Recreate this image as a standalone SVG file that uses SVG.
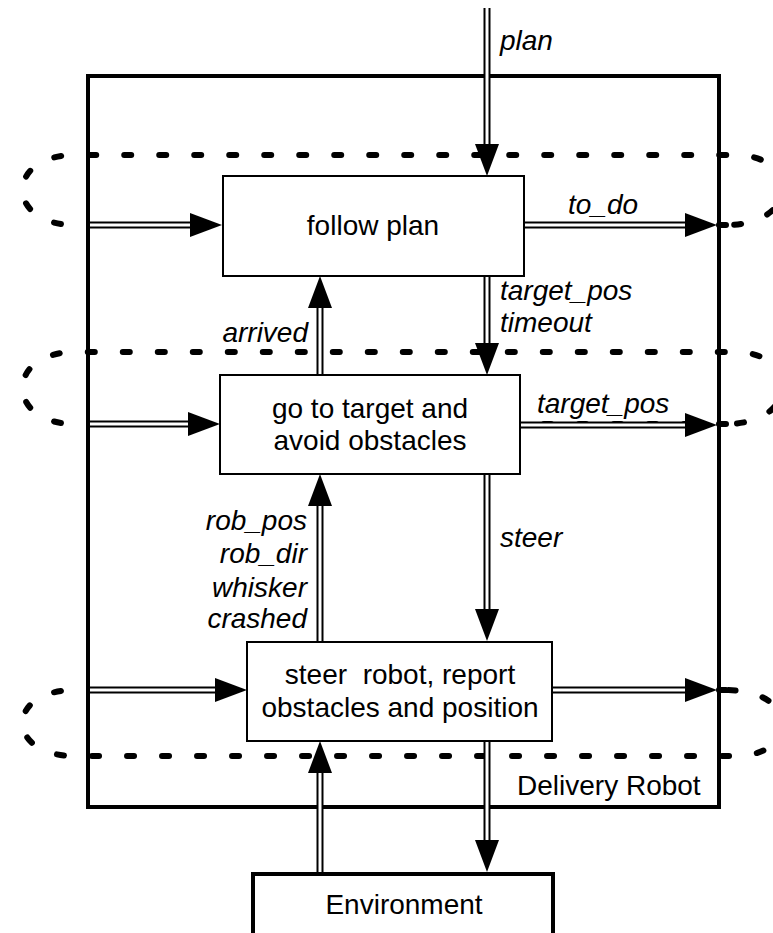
<svg xmlns="http://www.w3.org/2000/svg" width="773" height="933" viewBox="0 0 773 933">
<style>
.frame{fill:none;stroke:#000;stroke-width:4}
.box{fill:#fff;stroke:#000;stroke-width:2}
.env{fill:#fff;stroke:#000;stroke-width:4}
.loop{fill:none;stroke:#000;stroke-width:6;stroke-dasharray:7 28;stroke-linecap:round}
.sb{stroke:#000;stroke-width:7}
.sw{stroke:#fff;stroke-width:3}
.hd{fill:#000}
text{font-family:"Liberation Sans",Arial,sans-serif;font-size:28px;fill:#000}
.lbl{font-style:italic}
.c{text-anchor:middle}
.r{text-anchor:end}
</style>
<rect width="773" height="933" fill="#fff"/>
<g id="frame">
<rect class="frame" x="88" y="76" width="631" height="731"/>
<text x="517" y="795">Delivery Robot</text>
</g>
<g id="loops">
<path class="loop" d="M726,225 H75 C5,225 5,155 75,155 H735 C800,155 800,225 726,225"/>
<path class="loop" d="M726,424 H75 C5,424 5,352 75,352 H735 C800,352 800,424 726,424"/>
<path class="loop" d="M726,690 H75 C5,690 5,756 75,756 H735 C800,756 800,690 726,690"/>
</g>
<g id="connectors">
<!-- plan -->
<line class="sb" x1="487" y1="8" x2="487" y2="146"/><line class="sw" x1="487" y1="8" x2="487" y2="146"/>
<polygon class="hd" points="475,144 499,144 487,176"/>
<!-- input 1 -->
<line class="sb" x1="88" y1="225" x2="192" y2="225"/><line class="sw" x1="90" y1="225" x2="192" y2="225"/>
<polygon class="hd" points="190,213 190,237 222,225"/>
<!-- to_do -->
<line class="sb" x1="524" y1="225" x2="687" y2="225"/><line class="sw" x1="524" y1="225" x2="687" y2="225"/>
<polygon class="hd" points="685,213 685,237 717,225"/>
<!-- target_pos timeout -->
<line class="sb" x1="487" y1="276" x2="487" y2="345"/><line class="sw" x1="487" y1="276" x2="487" y2="345"/>
<polygon class="hd" points="475,343 499,343 487,375"/>
<!-- arrived -->
<line class="sb" x1="320" y1="375" x2="320" y2="306"/><line class="sw" x1="320" y1="375" x2="320" y2="306"/>
<polygon class="hd" points="308,308 332,308 320,276"/>
<!-- input 2 -->
<line class="sb" x1="88" y1="424" x2="190" y2="424"/><line class="sw" x1="90" y1="424" x2="190" y2="424"/>
<polygon class="hd" points="188,412 188,436 220,424"/>
<!-- target_pos out -->
<line class="sb" x1="520" y1="425" x2="687" y2="425"/><line class="sw" x1="520" y1="425" x2="687" y2="425"/>
<polygon class="hd" points="685,413 685,437 717,425"/>
<!-- rob_pos etc -->
<line class="sb" x1="320" y1="642" x2="320" y2="504"/><line class="sw" x1="320" y1="642" x2="320" y2="504"/>
<polygon class="hd" points="308,506 332,506 320,474"/>
<!-- steer -->
<line class="sb" x1="487" y1="474" x2="487" y2="611"/><line class="sw" x1="487" y1="474" x2="487" y2="611"/>
<polygon class="hd" points="475,609 499,609 487,641"/>
<!-- input 3 -->
<line class="sb" x1="88" y1="690" x2="217" y2="690"/><line class="sw" x1="90" y1="690" x2="217" y2="690"/>
<polygon class="hd" points="215,678 215,702 247,690"/>
<!-- output 3 -->
<line class="sb" x1="552" y1="690" x2="687" y2="690"/><line class="sw" x1="552" y1="690" x2="687" y2="690"/>
<polygon class="hd" points="685,678 685,702 717,690"/>
<!-- env up -->
<line class="sb" x1="320" y1="874" x2="320" y2="771"/><line class="sw" x1="320" y1="874" x2="320" y2="771"/>
<polygon class="hd" points="308,773 332,773 320,741"/>
<!-- env down -->
<line class="sb" x1="487" y1="741" x2="487" y2="842"/><line class="sw" x1="487" y1="741" x2="487" y2="842"/>
<polygon class="hd" points="475,840 499,840 487,872"/>
</g>
<g id="labels">
<text class="lbl" x="500" y="50">plan</text>
<text class="lbl" x="568" y="214">to_do</text>
<text class="lbl" x="500" y="300">target_pos</text>
<text class="lbl" x="500" y="332">timeout</text>
<text class="lbl r" x="308" y="342">arrived</text>
<text class="lbl" x="537" y="413">target_pos</text>
<text class="lbl" x="500" y="547">steer</text>
<text class="lbl r" x="307" y="530">rob_pos</text>
<text class="lbl r" x="307" y="563">rob_dir</text>
<text class="lbl r" x="307" y="597">whisker</text>
<text class="lbl r" x="307" y="628">crashed</text>
</g>
<g id="follow-plan">
<rect class="box" x="223" y="176" width="301" height="100"/>
<text class="c" x="373" y="235">follow plan</text>
</g>
<g id="go-to-target">
<rect class="box" x="220" y="375" width="300" height="99"/>
<text class="c" x="370" y="418">go to target and</text>
<text class="c" x="370" y="450">avoid obstacles</text>
</g>
<g id="steer-robot">
<rect class="box" x="247" y="642" width="305" height="99"/>
<text class="c" x="400" y="684" xml:space="preserve">steer  robot, report</text>
<text class="c" x="400" y="717">obstacles and position</text>
</g>
<g id="environment">
<rect class="env" x="253" y="874" width="300" height="90"/>
<text class="c" x="404" y="914">Environment</text>
</g>
</svg>
